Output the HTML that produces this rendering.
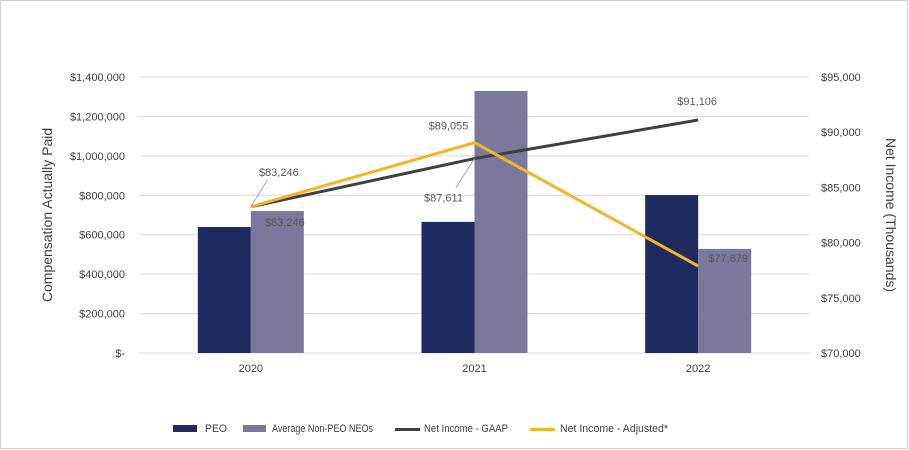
<!DOCTYPE html>
<html><head><meta charset="utf-8"><style>
body{margin:0;background:#fff}
svg{display:block;font-family:"Liberation Sans",sans-serif}
</style></head><body>
<svg width="909" height="450">
<rect x="0.5" y="0.5" width="907" height="448" fill="#fff" stroke="#d0d0d0"/>
<g id="grid"></g><g id="bars"></g><g id="lines"></g><g id="labels"></g><g id="axes"></g>
<text x="52" y="215" transform="rotate(-90 52 215)" text-anchor="middle" font-size="14" fill="#404040">Compensation Actually Paid</text>
<text x="886" y="215" transform="rotate(90 886 215)" text-anchor="middle" font-size="14" fill="#404040">Net Income (Thousands)</text>
<g font-size="11" fill="#404040">
<rect x="173" y="425" width="24" height="7" fill="#1f2a5e"/>
<text x="205" y="432" textLength="22" lengthAdjust="spacingAndGlyphs">PEO</text>
<rect x="243" y="425" width="23" height="7" fill="#7b789e"/>
<text x="272" y="432" textLength="101" lengthAdjust="spacingAndGlyphs">Average Non-PEO NEOs</text>
<rect x="395" y="428" width="25" height="3" fill="#404040"/>
<text x="424" y="432" textLength="84" lengthAdjust="spacingAndGlyphs">Net Income - GAAP</text>
<rect x="530" y="428" width="25" height="3" fill="#f4b428"/>
<text x="560" y="432" textLength="108" lengthAdjust="spacingAndGlyphs">Net Income - Adjusted*</text>
</g>
</svg>
<script>
const categories=["2020","2021","2022"];
const peo=[639000,665000,801000];
const neo=[720000,1329000,528000];
const gaap=[83246,87611,91106];
const adjusted=[83246,89055,77879];
const leftTicks=[0,200000,400000,600000,800000,1000000,1200000,1400000];
const rightTicks=[70000,75000,80000,85000,90000,95000];
const NS="http://www.w3.org/2000/svg";
const x0=139,x1=810,yTop=77,yBot=353;
const yL=v=>yBot-(v/1400000)*(yBot-yTop);
const yR=v=>yBot-((v-70000)/25000)*(yBot-yTop);
const band=(x1-x0)/categories.length;
const xc=i=>x0+band*(i+0.5);
function mk(t,a,p){const e=document.createElementNS(NS,t);for(const k in a)e.setAttribute(k,a[k]);document.getElementById(p).appendChild(e);return e;}
const fmt=v=>v===0?"$-":"$"+v.toLocaleString("en-US");
leftTicks.forEach(v=>{
 const l=mk("line",{x1:x0,x2:x1,y1:yL(v),y2:yL(v),stroke:"#d9d9d9"},"grid");
 
 
 const t=mk("text",{x:125,y:yL(v)+4,"text-anchor":"end","font-size":"11",fill:"#404040"},"axes");
 t.textContent=fmt(v);
 
 
});
rightTicks.forEach(v=>{
 const t=mk("text",{x:821,y:yR(v)+4,"font-size":"11",fill:"#404040"},"axes");
 t.textContent=fmt(v);
 
 
});
const bw=53;
categories.forEach((c,i)=>{
 const b1=mk("rect",{x:xc(i)-bw,y:yL(peo[i]),width:bw,height:yBot-yL(peo[i]),fill:"#1f2a5e"},"bars");
 
 
 const b2=mk("rect",{x:xc(i),y:yL(neo[i]),width:bw,height:yBot-yL(neo[i]),fill:"#7b789e"},"bars");
 
 
 const t=mk("text",{x:xc(i),y:372,"text-anchor":"middle","font-size":"11",fill:"#404040"},"axes");
 t.textContent=c;
 
 
});
function line(arr,col,name){
 const p=mk("polyline",{points:arr.map((v,i)=>xc(i)+","+yR(v)).join(" "),fill:"none",stroke:col,"stroke-width":"3"},"lines");
 
 
}
line(gaap,"#404040","line-gaap");
line(adjusted,"#f4b428","line-adjusted");
const lab=[[adjusted,0,28,-35,true],[gaap,0,34,15,false],[adjusted,1,-26,-17,false],[gaap,1,-31,39,true],[gaap,2,-1,-19,false],[adjusted,2,30,-8,false]];
lab.forEach(([s,i,dx,dy,ld])=>{
 const x=xc(i),y=yR(s[i]);
 if(ld){const l=mk("line",{x1:x,y1:y,x2:x+dx*0.6,y2:y+(dy<0?dy+8:dy-10),stroke:"#a6a6a6"},"labels");
 
 }
 const t=mk("text",{x:x+dx,y:y+dy+4,"text-anchor":"middle","font-size":"11",fill:"#595959"},"labels");
 t.textContent=fmt(s[i]);
 
 
});
</script>
</body></html>
